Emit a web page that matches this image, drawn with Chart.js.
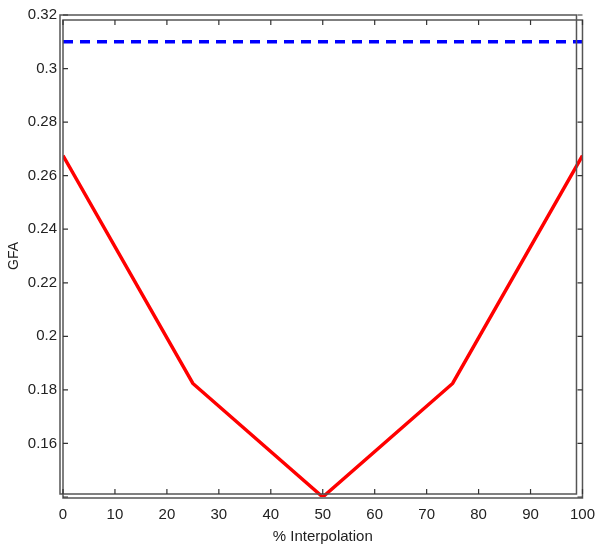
<!DOCTYPE html>
<html>
<head>
<meta charset="utf-8">
<script src="https://cdn.jsdelivr.net/npm/chart.js@4"></script>
<style>
    html, body { margin: 0; padding: 0; background: #fff; }
    #wrap { width: 604px; height: 552px; }
</style>
</head>
<body>
<div id="wrap"><canvas id="gfaLine" width="604" height="552"></canvas></div>
<script>
// values
const interpolation = [0, 25, 50, 75, 100];
const gfaInterp = [0.2675, 0.1824, 0.14, 0.1824, 0.2675];
const gfaReference = [0.31, 0.31, 0.31, 0.31, 0.31];
const xTicks = [0, 10, 20, 30, 40, 50, 60, 70, 80, 90, 100];
const yTicks = [0.14, 0.16, 0.18, 0.2, 0.22, 0.24, 0.26, 0.28, 0.3, 0.32];

const font = "'Liberation Sans', Arial, sans-serif";

// matlab style box: two slightly offset frames plus inward ticks
const boxPlugin = {
    id: "matlabBox",
    afterDraw(chart) {
        const ctx = chart.ctx;
        const a = chart.chartArea;
        const xs = chart.scales.x;
        const ys = chart.scales.y;
        ctx.save();
        ctx.strokeStyle = "#555";
        ctx.lineWidth = 1.5;
        ctx.strokeRect(a.left - 3, a.top, (a.right - 6) - (a.left - 3), (a.bottom - 3) - a.top);
        ctx.strokeRect(a.left, a.top + 5, a.right - a.left, (a.bottom + 1) - (a.top + 5));
        ctx.strokeStyle = "#333";
        ctx.lineWidth = 1.2;
        xTicks.forEach(v => {
            const px = xs.getPixelForValue(v);
            ctx.beginPath();
            ctx.moveTo(px, a.bottom - 3); ctx.lineTo(px, a.bottom - 8);
            ctx.moveTo(px, a.top + 5); ctx.lineTo(px, a.top + 10);
            ctx.stroke();
        });
        yTicks.forEach(v => {
            const py = ys.getPixelForValue(v);
            ctx.beginPath();
            ctx.moveTo(a.left, py); ctx.lineTo(a.left + 5, py);
            ctx.moveTo(a.right, py); ctx.lineTo(a.right - 5, py);
            ctx.stroke();
        });
        ctx.restore();
    }
};

const ctxGfa = document.getElementById("gfaLine");
const dataGfa = {
    datasets: [
        {
            label: "reference",
            data: interpolation.map((x, i) => ({ x: x, y: gfaReference[i] })),
            borderColor: "rgb(0, 0, 255)",
            borderWidth: 3.5,
            borderDash: [10, 7],
            pointRadius: 0,
            fill: false
        },
        {
            label: "interpolated",
            data: interpolation.map((x, i) => ({ x: x, y: gfaInterp[i] })),
            borderColor: "rgb(255, 0, 0)",
            borderWidth: 3.5,
            pointRadius: 0,
            fill: false
        }
    ]
};
const configGfa = {
    type: "line",
    data: dataGfa,
    options: {
        responsive: false,
        animation: false,
        layout: { padding: { top: 15, right: 21, bottom: 6, left: 6 } },
        plugins: { legend: { display: false }, tooltip: { enabled: false } },
        scales: {
            x: {
                type: "linear",
                min: 0,
                max: 100,
                afterFit: (s) => { s.height = 49; },
                afterBuildTicks: (s) => { s.ticks = xTicks.map(v => ({ value: v })); },
                grid: { display: false, drawTicks: false },
                border: { display: false },
                ticks: { color: "#222", font: { family: font, size: 15 }, padding: 9, maxRotation: 0 },
                title: { display: true, text: "% Interpolation", color: "#222", font: { family: font, size: 15 }, padding: { top: 2, bottom: 0 } }
            },
            y: {
                min: 0.14,
                max: 0.32,
                afterFit: (s) => { s.width = 57; },
                afterBuildTicks: (s) => { s.ticks = yTicks.map(v => ({ value: v })); },
                grid: { display: false, drawTicks: false },
                border: { display: false },
                ticks: {
                    color: "#222",
                    font: { family: font, size: 15 },
                    padding: 6,
                    callback: (v) => v === 0.14 ? "" : String(Math.round(v * 100) / 100)
                },
                title: { display: true, text: "GFA", color: "#222", font: { family: font, size: 14 }, padding: { top: 0, bottom: 2 } }
            }
        }
    },
    plugins: [boxPlugin]
};
new Chart(ctxGfa, configGfa);
</script>
</body>
</html>
